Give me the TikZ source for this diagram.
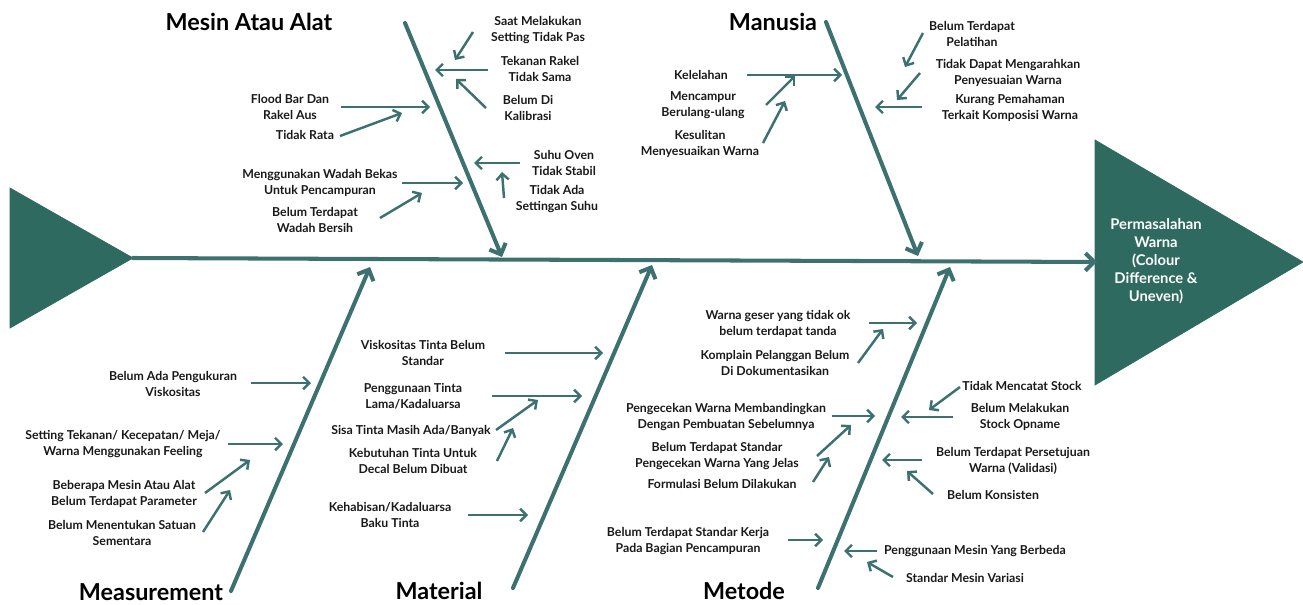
\documentclass[tikz,border=0pt]{standalone}
\usepackage{fontspec}
\setmainfont{Lato}
\usetikzlibrary{arrows.meta}
\definecolor{fishgreen}{RGB}{46,106,96}
\definecolor{bonegreen}{RGB}{60,113,111}
\definecolor{inktext}{RGB}{25,25,25}
\begin{document}
\begin{tikzpicture}[x=0.02cm,y=-0.02cm,
  cause/.style={font=\bfseries\fontsize{7}{9.4}\selectfont, align=center, text=inktext, inner sep=0pt},
  bonetitle/.style={font=\bfseries\fontsize{13.3}{15}\selectfont, text=black, inner sep=0pt},
  bone/.style={draw=bonegreen, line width=2.3pt, line cap=round, -{Straight Barb[length=5pt,width=10pt,line width=2.3pt]}},
  twig/.style={draw=bonegreen, line width=1.4pt, -{Straight Barb[length=3.5pt,width=7pt,line width=1.4pt]}}]
  \useasboundingbox (0,0) rectangle (1303,605);
  \filldraw [fishgreen] (10,188) -- (133,258) coordinate (tail) -- (10,328) -- cycle;
  \filldraw [fishgreen] (1095,140) coordinate (headtop) -- (1303,262) coordinate (headtip) -- (1095,385) coordinate (headbot) -- cycle;
  \node [cause, text=white, font=\bfseries\fontsize{8.4}{10.2}\selectfont] (problem) at (1156,261) {Permasalahan\\Warna\\(Colour\\Difference \&\\Uneven)};
  \draw [bone] (tail) -- (1097,262) coordinate (spineend);
  % tulang utama
  \draw [bone] (405,23) coordinate (mesintop) -- (502,257) coordinate (mesinend);
  \draw [bone] (826,22) coordinate (manusiatop) -- (918,256) coordinate (manusiaend);
  \draw [bone] (231,591) coordinate (measbot) -- (370,267) coordinate (measend);
  \draw [bone] (513,588) coordinate (matbot) -- (652,265) coordinate (matend);
  \draw [bone] (818,588) coordinate (metbot) -- (950,267) coordinate (metend);
  \node [bonetitle] (mesin) at (249,22) {Mesin Atau Alat};
  \node [bonetitle] (manusia) at (773,22) {Manusia};
  \node [bonetitle] (measurement) at (151,592) {Measurement};
  \node [bonetitle] (material) at (439,591) {Material};
  \node [bonetitle] (metode) at (744,591) {Metode};
  % mesin atau alat
  \node [cause] (mes1) at (538,30) {Saat Melakukan\\Setting Tidak Pas};
  \node [cause] (mes2) at (540,69) {Tekanan Rakel\\Tidak Sama};
  \node [cause] (mes3) at (528,108) {Belum Di\\Kalibrasi};
  \node [cause] (mes4) at (564,163) {Suhu Oven\\Tidak Stabil};
  \node [cause] (mes5) at (557,199) {Tidak Ada\\Settingan Suhu};
  \node [cause] (mes6) at (290,107) {Flood Bar Dan\\Rakel Aus};
  \node [cause] (mes7) at (305,135) {Tidak Rata};
  \node [cause] (mes8) at (320,183) {Menggunakan Wadah Bekas\\Untuk Pencampuran};
  \node [cause] (mes9) at (315,220) {Belum Terdapat\\Wadah Bersih};
  \draw [twig] (473,32) coordinate (mes1a) -- (455,60) coordinate (mes1b);
  \draw [twig] (488,70) coordinate (mes2a) -- (435,70) coordinate (mes2b);
  \draw [twig] (486,108) coordinate (mes3a) -- (456,79) coordinate (mes3b);
  \draw [twig] (520,163) coordinate (mes4a) -- (474,163) coordinate (mes4b);
  \draw [twig] (504,198) coordinate (mes5a) -- (502,172) coordinate (mes5b);
  \draw [twig] (341,107) coordinate (mes6a) -- (430,107) coordinate (mes6b);
  \draw [twig] (340,136) coordinate (mes7a) -- (402,113) coordinate (mes7b);
  \draw [twig] (402,183) coordinate (mes8a) -- (463,183) coordinate (mes8b);
  \draw [twig] (380,218) coordinate (mes9a) -- (422,193) coordinate (mes9b);
  % manusia
  \node [cause] (man1) at (701,75) {Kelelahan};
  \node [cause] (man2) at (703,105) {Mencampur\\Berulang-ulang};
  \node [cause] (man3) at (700,144) {Kesulitan\\Menyesuaikan Warna};
  \node [cause] (man4) at (972,34) {Belum Terdapat\\Pelatihan};
  \node [cause] (man5) at (1008,73) {Tidak Dapat Mengarahkan\\Penyesuaian Warna};
  \node [cause] (man6) at (1010,108) {Kurang Pemahaman\\Terkait Komposisi Warna};
  \draw [twig] (747,75) coordinate (man1a) -- (842,75) coordinate (man1b);
  \draw [twig] (766,105) coordinate (man2a) -- (795,76) coordinate (man2b);
  \draw [twig] (763,143) coordinate (man3a) -- (785,101) coordinate (man3b);
  \draw [twig] (923,33) coordinate (man4a) -- (905,67) coordinate (man4b);
  \draw [twig] (920,73) coordinate (man5a) -- (897,100) coordinate (man5b);
  \draw [twig] (922,107) coordinate (man6a) -- (875,107) coordinate (man6b);
  % measurement
  \node [cause] (mea1) at (173,384) {Belum Ada Pengukuran\\Viskositas};
  \node [cause] (mea2) at (123,444) {Setting Tekanan/ Kecepatan/ Meja/\\Warna Menggunakan Feeling};
  \node [cause] (mea3) at (124,494) {Beberapa Mesin Atau Alat\\Belum Terdapat Parameter};
  \node [cause] (mea4) at (122,533) {Belum Menentukan Satuan\\Sementara};
  \draw [twig] (251,383) coordinate (mea1a) -- (311,383) coordinate (mea1b);
  \draw [twig] (228,444) coordinate (mea2a) -- (283,444) coordinate (mea2b);
  \draw [twig] (205,493) coordinate (mea3a) -- (250,460) coordinate (mea3b);
  \draw [twig] (203,532) coordinate (mea4a) -- (230,490) coordinate (mea4b);
  % material
  \node [cause] (mat1) at (423,353) {Viskositas Tinta Belum\\Standar};
  \node [cause] (mat2) at (413,396) {Penggunaan Tinta\\Lama/Kadaluarsa};
  \node [cause] (mat3) at (411,431) {Sisa Tinta Masih Ada/Banyak};
  \node [cause] (mat4) at (413,461) {Kebutuhan Tinta Untuk\\Decal Belum Dibuat};
  \node [cause] (mat5) at (390,515) {Kehabisan/Kadaluarsa\\Baku Tinta};
  \draw [twig] (505,353) coordinate (mat1a) -- (603,353) coordinate (mat1b);
  \draw [twig] (492,396) coordinate (mat2a) -- (582,396) coordinate (mat2b);
  \draw [twig] (496,430) coordinate (mat3a) -- (538,400) coordinate (mat3b);
  \draw [twig] (497,461) coordinate (mat4a) -- (513,428) coordinate (mat4b);
  \draw [twig] (468,515) coordinate (mat5a) -- (528,515) coordinate (mat5b);
  % metode
  \node [cause] (met1) at (778,324) {Warna geser yang tidak ok\\belum terdapat tanda};
  \node [cause] (met2) at (775,363) {Komplain Pelanggan Belum\\Di Dokumentasikan};
  \node [cause] (met3) at (726,417) {Pengecekan Warna Membandingkan\\Dengan Pembuatan Sebelumnya};
  \node [cause] (met4) at (717,456) {Belum Terdapat Standar\\Pengecekan Warna Yang Jelas};
  \node [cause] (met5) at (722,484) {Formulasi Belum Dilakukan};
  \node [cause] (met6) at (688,541) {Belum Terdapat Standar Kerja\\Pada Bagian Pencampuran};
  \node [cause] (met7) at (1022,386) {Tidak Mencatat Stock};
  \node [cause] (met8) at (1020,417) {Belum Melakukan\\Stock Opname};
  \node [cause] (met9) at (1013,461) {Belum Terdapat Persetujuan\\Warna (Validasi)};
  \node [cause] (met10) at (993,495) {Belum Konsisten};
  \node [cause] (met11) at (975,551) {Penggunaan Mesin Yang Berbeda};
  \node [cause] (met12) at (965,578) {Standar Mesin Variasi};
  \draw [twig] (869,323) coordinate (met1a) -- (917,323) coordinate (met1b);
  \draw [twig] (858,363) coordinate (met2a) -- (883,329) coordinate (met2b);
  \draw [twig] (832,416) coordinate (met3a) -- (875,416) coordinate (met3b);
  \draw [twig] (817,456) coordinate (met4a) -- (851,425) coordinate (met4b);
  \draw [twig] (813,482) coordinate (met5a) -- (829,457) coordinate (met5b);
  \draw [twig] (788,540) coordinate (met6a) -- (823,540) coordinate (met6b);
  \draw [twig] (960,387) coordinate (met7a) -- (929,410) coordinate (met7b);
  \draw [twig] (953,417) coordinate (met8a) -- (901,417) coordinate (met8b);
  \draw [twig] (922,460) coordinate (met9a) -- (882,460) coordinate (met9b);
  \draw [twig] (933,494) coordinate (met10a) -- (907,471) coordinate (met10b);
  \draw [twig] (877,551) coordinate (met11a) -- (844,551) coordinate (met11b);
  \draw [twig] (893,577) coordinate (met12a) -- (867,562) coordinate (met12b);
\end{tikzpicture}
\end{document}
